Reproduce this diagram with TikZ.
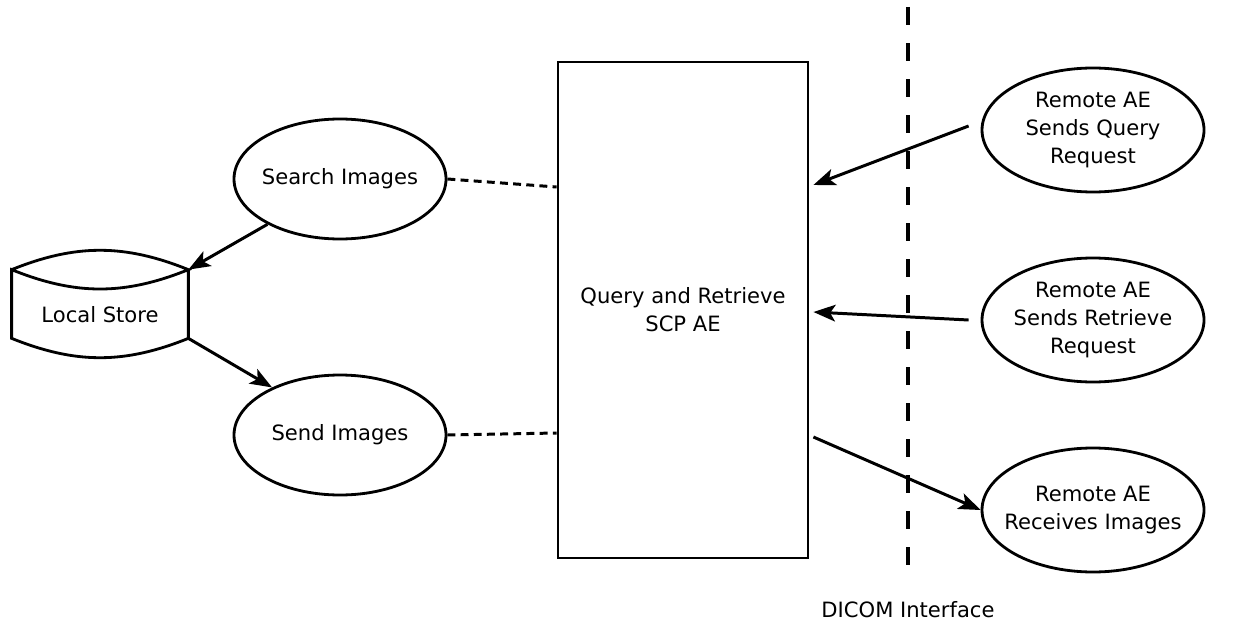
\documentclass[tikz,border=0pt]{standalone}
\usepackage{fontspec}
\setmainfont{DejaVu Sans}
\usetikzlibrary{arrows.meta,calc,shapes.geometric}

\begin{document}
\begin{tikzpicture}[x=0.02cm, y=0.02cm,
  every node/.style={font=\fontsize{12}{16}\selectfont, align=center, inner sep=0pt},
  task/.style={ellipse, draw, line width=1.6pt, inner xsep=-30pt, inner ysep=-20pt, minimum width=212*0.02cm, minimum height=120*0.02cm},
  remote/.style={ellipse, draw, line width=1.6pt, inner xsep=-30pt, inner ysep=-20pt, minimum width=222*0.02cm, minimum height=124*0.02cm},
  arr/.style={line width=1.7pt, -{Stealth[length=12.5pt, width=9.5pt, inset=3pt]}},
  link/.style={line width=1.7pt, dash pattern=on 4.5pt off 3pt}]

\useasboundingbox (0,0) rectangle (1256,-628);

% Application entity
\node (scp) [draw, line width=1.6pt, minimum width=250*0.02cm, minimum height=496*0.02cm] at (683,-310) {Query and Retrieve\\SCP AE};

% Local activities
\node (search) [task] at (340,-179) {Search Images};
\node (send) [task] at (340,-435) {Send Images};

% Local store, drawn around an empty box
\node (store) [minimum width=176*0.02cm, minimum height=68*0.02cm] at (100,-304) {};
\draw [line width=1.6pt] (store.north west) to[bend left=22] (store.north east) to[bend left=22] (store.north west)
  -- (store.south west) to[bend right=22] (store.south east) -- (store.north east);
\node (storetext) at (100,-315) {Local Store};

% Remote activities
\node (query) [remote] at (1093,-130) {Remote AE\\Sends Query\\Request};
\node (retrieve) [remote] at (1093,-320) {Remote AE\\Sends Retrieve\\Request};
\node (receive) [remote] at (1093,-510) {Remote AE\\Receives Images};

% DICOM interface
\draw [line width=2pt, dash pattern=on 10pt off 10.5pt] (908,-7) -- (908,-582);
\node (dicom) at (908,-610) {DICOM Interface};

% Connectors
\draw [arr] (search.212) -- (store.north east);
\draw [arr] (store.south east) -- (send.145);
\draw [link] (search.east) -- ($(scp.west)+(0,123)$);
\draw [link] (send.east) -- ($(scp.west)+(0,-123)$);
\draw [arr] ($(query.west)+(-12,4)$) -- ($(scp.east)+(4,125)$);
\draw [arr] ($(retrieve.west)+(-12,0)$) -- ($(scp.east)+(4,-2)$);
\draw [arr] ($(scp.east)+(4,-127)$) -- (receive.west);
\end{tikzpicture}
\end{document}
